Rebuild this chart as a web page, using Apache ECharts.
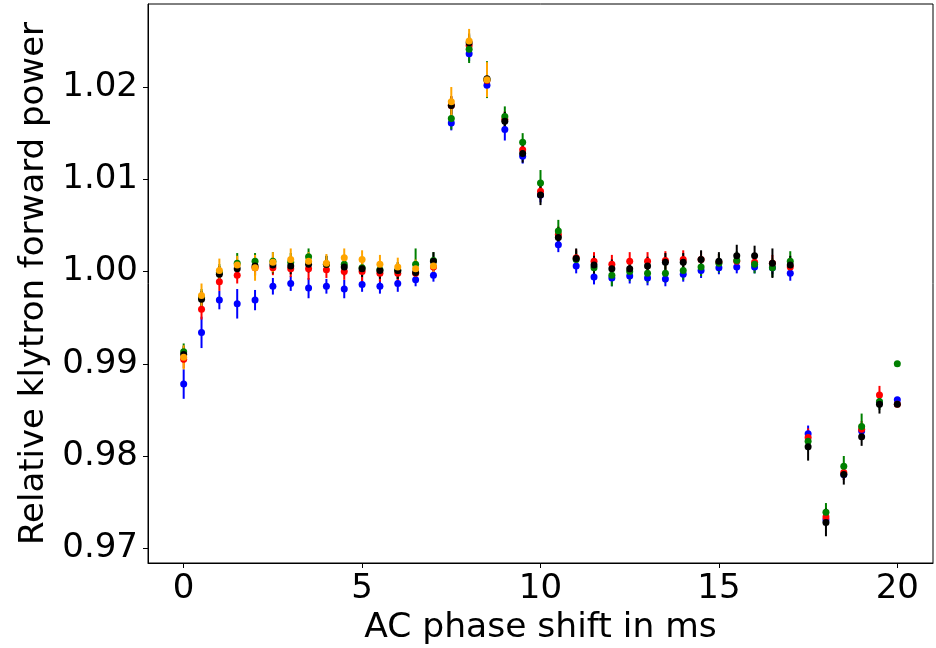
<!DOCTYPE html>
<html>
<head>
<meta charset="utf-8">
<script src="https://cdn.jsdelivr.net/npm/echarts@6/dist/echarts.min.js"></script>
<style>
  html, body { margin: 0; padding: 0; background: #fff; }
  #chart { width: 936px; height: 648px; }
</style>
</head>
<body>
<div id="chart"></div>
<script>
// phase shift positions (ms)
const phaseShift = [0, 0.5, 1, 1.5, 2, 2.5, 3, 3.5, 4, 4.5, 5, 5.5, 6, 6.5, 7, 7.5, 8, 8.5, 9, 9.5, 10,
    10.5, 11, 11.5, 12, 12.5, 13, 13.5, 14, 14.5, 15, 15.5, 16, 16.5, 17, 17.5, 18, 18.5, 19, 19.5, 20];

const blueVal = [0.9878, 0.9934, 0.9969, 0.9965, 0.9969, 0.9984, 0.9987, 0.9982, 0.9984, 0.9981, 0.9986,
    0.9984, 0.9987, 0.9991, 0.9996, 1.0161, 1.0236, 1.0202, 1.0154, 1.0125, 1.0083,
    1.0029, 1.0006, 0.9994, 0.9993, 0.9995, 0.9993, 0.9992, 0.9997, 1.0001, 1.0004,
    1.0005, 1.0005, 1.0004, 0.9998, 0.9824, 0.9731, 0.9780, 0.9827, 0.9858, 0.9861];
const blueErr = [0.0016, 0.0017, 0.0010, 0.0016, 0.0011, 0.0009, 0.0008, 0.0011, 0.0008, 0.0010, 0.0008,
    0.0008, 0.0009, 0.0007, 0.0007, 0.0008, 0.0008, 0.0008, 0.0012, 0.0008, 0.0008,
    0.0008, 0.0008, 0.0008, 0.0009, 0.0008, 0.0008, 0.0008, 0.0008, 0.0008, 0.0007,
    0.0007, 0.0007, 0.0007, 0.0008, 0.0009, 0.0008, 0.0006, 0.0006, 0.0006, 0];

const redVal = [0.9905, 0.9959, 0.9989, 0.9996, 1.0004, 1.0004, 1.0003, 1.0003, 1.0002, 1.0000, 1.0000,
    0.9998, 0.9998, 0.9998, 1.0005, 1.0180, 1.0245, 1.0207, 1.0165, 1.0132, 1.0087,
    1.0040, 1.0015, 1.0011, 1.0008, 1.0011, 1.0011, 1.0012, 1.0013, 1.0013, 1.0010,
    1.0011, 1.0010, 1.0009, 1.0005, 0.9820, 0.9734, 0.9782, 0.9829, 0.9866, 0.9856];
const redErr = [0.0010, 0.0011, 0.0010, 0.0009, 0.0009, 0.0008, 0.0009, 0.0012, 0.0009, 0.0009, 0.0014,
    0.0009, 0.0009, 0.0008, 0.0008, 0.0010, 0.0009, 0.0010, 0.0009, 0.0009, 0.0009,
    0.0009, 0.0009, 0.0010, 0.0010, 0.0010, 0.0010, 0.0010, 0.0010, 0.0009, 0.0009,
    0.0009, 0.0009, 0.0009, 0.0009, 0.0010, 0.0010, 0.0008, 0.0009, 0.0010, 0];

const greenVal = [0.9913, 0.9972, 0.9999, 1.0009, 1.0011, 1.0011, 1.0010, 1.0016, 1.0008, 1.0008, 1.0004,
    1.0002, 1.0001, 1.0008, 1.0012, 1.0166, 1.0241, 1.0208, 1.0168, 1.0140, 1.0096,
    1.0044, 1.0013, 1.0004, 0.9996, 1.0000, 0.9998, 0.9998, 1.0001, 1.0005, 1.0009,
    1.0012, 1.0008, 1.0004, 1.0011, 0.9816, 0.9739, 0.9789, 0.9832, 0.9859, 0.9900];
const greenErr = [0.0009, 0.0009, 0.0009, 0.0011, 0.0009, 0.0010, 0.0010, 0.0009, 0.0009, 0.0009, 0.0009,
    0.0009, 0.0009, 0.0017, 0.0009, 0.0012, 0.0015, 0.0020, 0.0011, 0.0010, 0.0014,
    0.0012, 0.0009, 0.0010, 0.0012, 0.0010, 0.0010, 0.0010, 0.0010, 0.0010, 0.0010,
    0.0010, 0.0010, 0.0010, 0.0011, 0.0010, 0.0010, 0.0011, 0.0014, 0.0009, 0];

const blackVal = [0.9910, 0.9970, 0.9997, 1.0003, 1.0006, 1.0007, 1.0006, 1.0008, 1.0008, 1.0005, 1.0003,
    1.0001, 1.0001, 0.9999, 1.0011, 1.0180, 1.0248, 1.0209, 1.0163, 1.0128, 1.0083,
    1.0037, 1.0014, 1.0007, 1.0003, 1.0003, 1.0006, 1.0010, 1.0010, 1.0013, 1.0011,
    1.0017, 1.0017, 1.0009, 1.0007, 0.9810, 0.9728, 0.9780, 0.9821, 0.9856, 0.9856];
const blackErr = [0.0009, 0.0009, 0.0009, 0.0009, 0.0010, 0.0009, 0.0009, 0.0009, 0.0009, 0.0009, 0.0009,
    0.0009, 0.0009, 0.0009, 0.0010, 0.0010, 0.0010, 0.0010, 0.0010, 0.0010, 0.0011,
    0.0011, 0.0011, 0.0010, 0.0010, 0.0010, 0.0010, 0.0010, 0.0010, 0.0010, 0.0010,
    0.0012, 0.0011, 0.0016, 0.0010, 0.0015, 0.0015, 0.0011, 0.0010, 0.0010, 0];

// orange only measured up to 8.5 ms
const orangeVal = [0.9907, 0.9974, 1.0001, 1.0007, 1.0004, 1.0010, 1.0013, 1.0011, 1.0009, 1.0015, 1.0013,
    1.0008, 1.0005, 1.0003, 1.0006, 1.0184, 1.0250, 1.0208];
const orangeErr = [0.0013, 0.0013, 0.0013, 0.0010, 0.0014, 0.0011, 0.0012, 0.0010, 0.0010, 0.0010, 0.0010,
    0.0010, 0.0010, 0.0010, 0.0008, 0.0016, 0.0013, 0.0019];

const xTicks = [0, 5, 10, 15, 20];
const yTicks = [0.97, 0.98, 0.99, 1.00, 1.01, 1.02];

const font = 'DejaVu Sans';

const groups = [
    { color: '#0000ff', val: blueVal, err: blueErr },
    { color: '#ff0000', val: redVal, err: redErr },
    { color: '#008000', val: greenVal, err: greenErr },
    { color: '#000000', val: blackVal, err: blackErr },
    { color: '#ffa500', val: orangeVal, err: orangeErr }
];

const series = [];
groups.forEach((g) => {
    let pts = g.val.map((v, i) => [phaseShift[i], v, g.err[i]]);
    // error bars
    series.push({
        type: 'custom',
        silent: true,
        data: pts,
        renderItem: function (params, api) {
            let x = api.value(0), y = api.value(1), e = api.value(2);
            let p1 = api.coord([x, y - e]);
            let p2 = api.coord([x, y + e]);
            return {
                type: 'line',
                shape: { x1: p1[0], y1: p1[1], x2: p2[0], y2: p2[1] },
                style: { stroke: g.color, lineWidth: 2 }
            };
        }
    });
    // markers
    series.push({
        type: 'scatter',
        symbol: 'circle',
        symbolSize: 7,
        data: pts.map((p) => [p[0], p[1]]),
        itemStyle: { color: g.color, opacity: 1 }
    });
});

const option = {
    animation: false,
    backgroundColor: '#fff',
    grid: {
        left: 148, right: 3, top: 4, bottom: 85,
        containLabel: false,
        outerBoundsMode: 'none',
        show: true,
        borderColor: '#000',
        borderWidth: 1
    },
    xAxis: {
        type: 'value',
        min: -1, max: 21,
        name: 'AC phase shift in ms',
        nameLocation: 'middle',
        nameGap: 48,
        nameTextStyle: { fontFamily: font, fontSize: 34.5, color: '#000' },
        splitLine: { show: false },
        axisLine: { show: true, onZero: false, lineStyle: { color: '#000', width: 1 } },
        axisTick: { show: true, inside: false, length: 5, lineStyle: { color: '#000' }, customValues: xTicks },
        axisLabel: { fontFamily: font, fontSize: 34, color: '#000', margin: 9, customValues: xTicks }
    },
    yAxis: {
        type: 'value',
        min: 0.9684, max: 1.0290,
        name: 'Relative klytron forward power',
        nameLocation: 'middle',
        nameGap: 96,
        nameTextStyle: { fontFamily: font, fontSize: 34, color: '#000' },
        splitLine: { show: false },
        axisLine: { show: true, onZero: false, lineStyle: { color: '#000', width: 1 } },
        axisTick: { show: true, inside: false, length: 5, lineStyle: { color: '#000' }, customValues: yTicks },
        axisLabel: {
            fontFamily: font, fontSize: 34, color: '#000', margin: 10,
            customValues: yTicks,
            formatter: (v) => v.toFixed(2)
        }
    },
    series: series
};

const chart = echarts.init(document.getElementById('chart'));
chart.setOption(option);
</script>
</body>
</html>
